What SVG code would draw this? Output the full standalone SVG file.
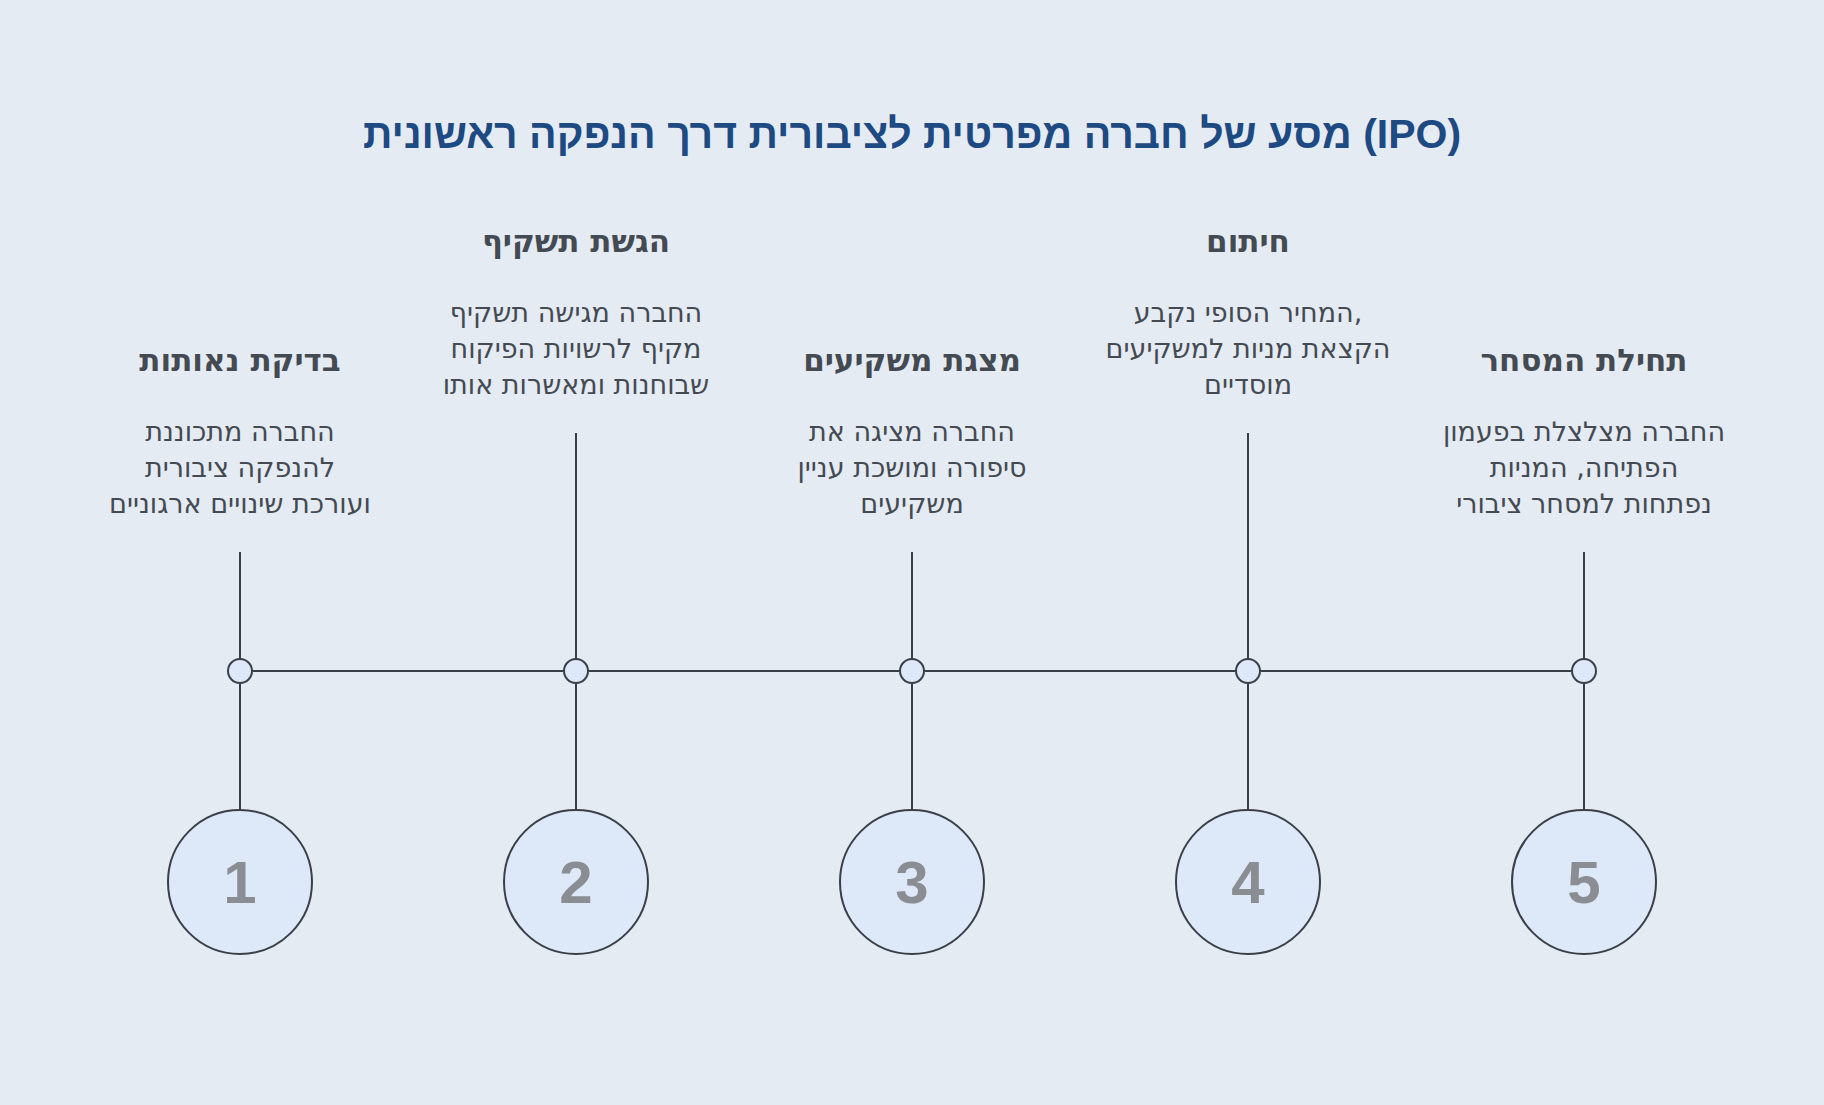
<svg xmlns="http://www.w3.org/2000/svg" width="1824" height="1105" viewBox="0 0 1824 1105">
<style>
.t{font-family:"Liberation Sans","DejaVu Sans",sans-serif;font-weight:bold;font-size:41px;fill:#1d4a82;text-anchor:middle}
.h{font-family:"DejaVu Sans","Liberation Sans",sans-serif;font-weight:bold;font-size:31px;fill:#444a52;text-anchor:middle}
.d{font-family:"DejaVu Sans","Liberation Sans",sans-serif;font-size:27px;fill:#444a52;text-anchor:middle}
.n{font-family:"Liberation Sans",sans-serif;font-weight:bold;font-size:60px;fill:#8a8d92;text-anchor:middle}
.l{stroke:#3a3f48;stroke-width:2;fill:none}
.c{fill:#dde8f9;stroke:#3a3f48;stroke-width:2}
</style>
<rect width="1824" height="1105" fill="#e5ebf2"/>
<text class="t" x="912" y="148">מסע של חברה מפרטית לציבורית דרך הנפקה ראשונית (IPO)</text>
<g id="connectors">
<line class="l" x1="240" y1="671" x2="1584" y2="671"/>
<line class="l" x1="240" y1="552" x2="240" y2="810"/>
<line class="l" x1="576" y1="433" x2="576" y2="810"/>
<line class="l" x1="912" y1="552" x2="912" y2="810"/>
<line class="l" x1="1248" y1="433" x2="1248" y2="810"/>
<line class="l" x1="1584" y1="552" x2="1584" y2="810"/>
</g>
<g id="step1">
<text class="h" x="240" y="371">בדיקת נאותות</text>
<text class="d" x="240" y="441">החברה מתכוננת</text>
<text class="d" x="240" y="477">להנפקה ציבורית</text>
<text class="d" x="240" y="513">ועורכת שינויים ארגוניים</text>
<circle class="c" cx="240" cy="671" r="12"/>
<circle class="c" cx="240" cy="882" r="72"/>
<text class="n" x="240" y="903">1</text>
</g>
<g id="step2">
<text class="h" x="576" y="252">הגשת תשקיף</text>
<text class="d" x="576" y="322">החברה מגישה תשקיף</text>
<text class="d" x="576" y="358">מקיף לרשויות הפיקוח</text>
<text class="d" x="576" y="394">שבוחנות ומאשרות אותו</text>
<circle class="c" cx="576" cy="671" r="12"/>
<circle class="c" cx="576" cy="882" r="72"/>
<text class="n" x="576" y="903">2</text>
</g>
<g id="step3">
<text class="h" x="912" y="371">מצגת משקיעים</text>
<text class="d" x="912" y="441">החברה מציגה את</text>
<text class="d" x="912" y="477">סיפורה ומושכת עניין</text>
<text class="d" x="912" y="513">משקיעים</text>
<circle class="c" cx="912" cy="671" r="12"/>
<circle class="c" cx="912" cy="882" r="72"/>
<text class="n" x="912" y="903">3</text>
</g>
<g id="step4">
<text class="h" x="1248" y="252">חיתום</text>
<text class="d" x="1248" y="322">המחיר הסופי נקבע,</text>
<text class="d" x="1248" y="358">הקצאת מניות למשקיעים</text>
<text class="d" x="1248" y="394">מוסדיים</text>
<circle class="c" cx="1248" cy="671" r="12"/>
<circle class="c" cx="1248" cy="882" r="72"/>
<text class="n" x="1248" y="903">4</text>
</g>
<g id="step5">
<text class="h" x="1584" y="371">תחילת המסחר</text>
<text class="d" x="1584" y="441">החברה מצלצלת בפעמון</text>
<text class="d" x="1584" y="477">הפתיחה, המניות</text>
<text class="d" x="1584" y="513">נפתחות למסחר ציבורי</text>
<circle class="c" cx="1584" cy="671" r="12"/>
<circle class="c" cx="1584" cy="882" r="72"/>
<text class="n" x="1584" y="903">5</text>
</g>
</svg>
